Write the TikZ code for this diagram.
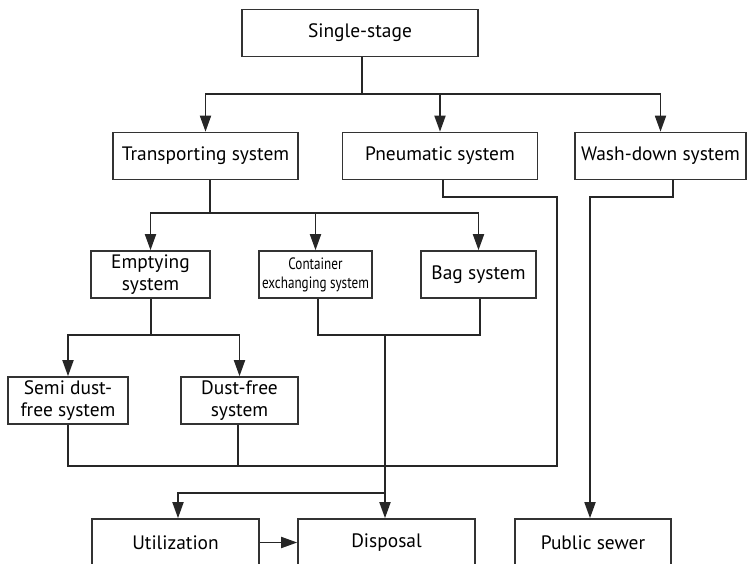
\documentclass[tikz,border=0pt]{standalone}
\usepackage{fontspec}
\setmainfont{PT Sans}
\newfontfamily\narrowfont[FakeStretch=0.8]{PT Sans}
\usetikzlibrary{arrows.meta}
\begin{document}
\begin{tikzpicture}[x=1bp,y=-1bp,
  box/.style={draw=black!80,line width=1.6bp,minimum height=47bp,inner sep=2bp,
    align=center,font=\fontsize{19.5}{22}\selectfont},
  smallbox/.style={box,font=\narrowfont\fontsize{16.5}{19}\selectfont},
  link/.style={draw=black!85,line width=1.8bp},
  arr/.style={link,-{Triangle[length=16bp,width=11bp]}}]
\clip (0,0) rectangle (748,564);

% boxes
\node[box,minimum width=236bp] (single) at (360,33) {Single-stage};
\node[box,minimum width=185bp] (trans) at (205.5,156) {Transporting system};
\node[box,minimum width=195bp] (pneu) at (440,156) {Pneumatic system};
\node[box,minimum width=171bp] (wash) at (660.5,156) {Wash-down system};
\node[box,minimum width=119bp] (empty) at (150.5,274.5) {Emptying\\system};
\node[smallbox,minimum width=113bp] (cont) at (315.5,274.5) {Container\\exchanging system};
\node[box,minimum width=115bp] (bag) at (478.5,274.5) {Bag system};
\node[box,minimum width=120bp] (semi) at (68,400.5) {Semi dust-\\free system};
\node[box,minimum width=117bp] (dust) at (239.5,400.5) {Dust-free\\system};
\node[box,minimum width=167bp] (util) at (175.5,542.5) {Utilization};
\node[box,minimum width=177bp] (disp) at (386.5,542.5) {Disposal};
\node[box,minimum width=156bp] (sewer) at (593,542.5) {Public sewer};

% junction points
\coordinate (b1) at (362,94);
\coordinate (b2) at (210,213);
\coordinate (b3) at (151,335);
\coordinate (b4) at (385,335);
\coordinate (b5) at (385,493);
\coordinate (pk) at (557,197);
\coordinate (pj) at (557,466);
\coordinate (wk) at (673,197);

% first level
\draw[link] (single.south -| b1) -- (b1);
\draw[arr] (b1) -| (trans.north);
\draw[arr] (b1) -| (pneu.north);
\draw[arr] (b1) -| (wash.north);

% transporting system branches
\draw[link] (trans.south -| b2) -- (b2);
\draw[arr] (b2) -| (empty.north);
\draw[arr] (b2) -| (cont.north);
\draw[arr] (b2) -| (bag.north);

% emptying system branches
\draw[link] (empty.south -| b3) -- (b3);
\draw[arr] (b3) -| (semi.north);
\draw[arr] (b3) -| (dust.north);

% collecting lines
\draw[link] (pneu.south -| 443,0) |- (pk) -- (pj) -| (semi.south);
\draw[link] (dust.south -| 238,0) -- (238,466);
\draw[link] (cont.south -| 318,0) |- (b4) -| (bag.south -| 480,0);
\draw[arr] (b4) -- (b4 |- disp.north);
\draw[arr] (b5) -| (util.north -| 178,0);
\draw[arr] (util.east) -- (disp.west);
\draw[arr] (wash.south -| wk) -- (wk) -| (sewer.north -| 590,0);
\end{tikzpicture}
\end{document}
